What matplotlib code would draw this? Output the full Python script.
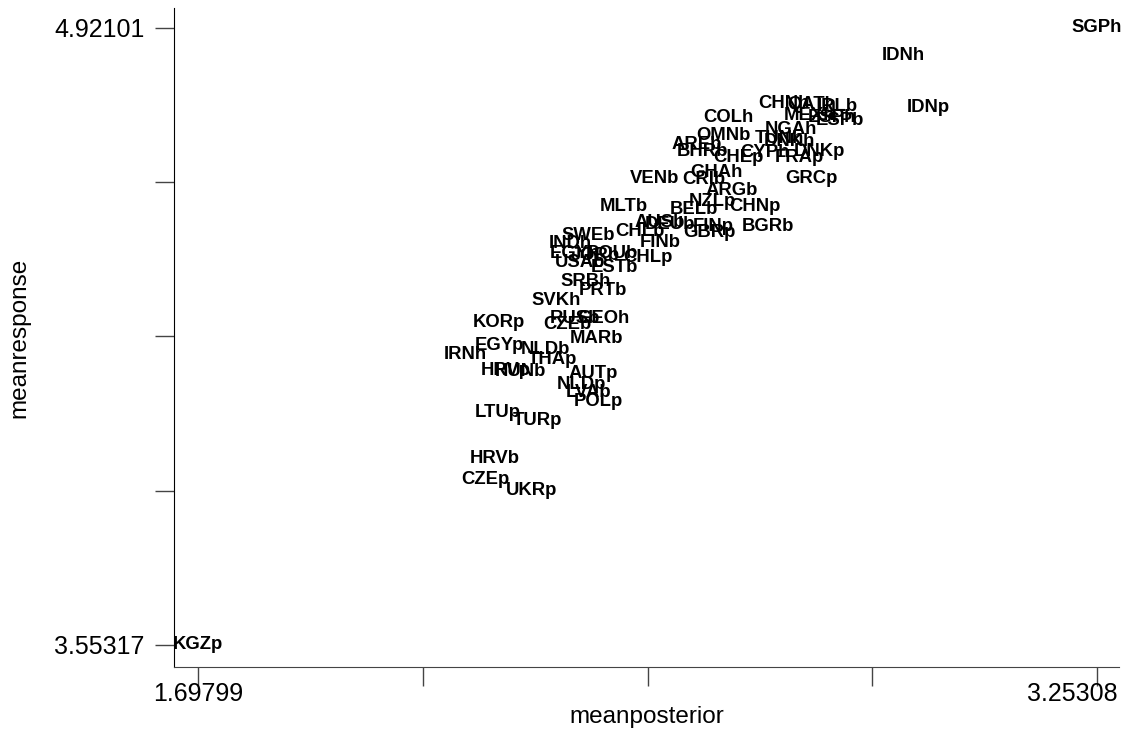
# coding: utf-8
# Scatter of mean response vs mean posterior, country codes used as markers

import matplotlib
matplotlib.use("Agg")
import matplotlib.pyplot as plt
from matplotlib.transforms import ScaledTranslation

codes = ["SGPh", "IDNh", "IDNp", "CHNh", "QATh", "IRLb", "MEXh", "ESPh", "ESPb",
         "COLh", "NGAh", "TUNh", "DNKh", "OMNb", "AREb", "BHRb", "CYPh", "DNKp",
         "CHEp", "FRAp", "GRCp", "GHAh", "VENb", "CRIb", "ARGb", "MLTb", "NZLp",
         "BELb", "CHNp", "BGRb", "AUSb", "DEUb", "FINp", "GBRp", "CHLb", "SWEb",
         "FINb", "INDh", "EGYh", "JORb", "ROUb", "CHLp", "USAb", "ESTb", "SRBh",
         "PRTb", "SVKh", "KORp", "CZEb", "RUSb", "GEOh", "MARb", "EGYp", "NLDb",
         "IRNh", "THAp", "HUNb", "HRVp", "AUTp", "NLDp", "LVAb", "POLp", "LTUp",
         "TURp", "HRVb", "CZEp", "UKRp", "KGZp"]

meanposterior = [3.25308, 2.918, 2.961, 2.711, 2.759, 2.804, 2.756, 2.794, 2.808,
                 2.616, 2.723, 2.704, 2.721, 2.606, 2.561, 2.570, 2.678, 2.773,
                 2.633, 2.739, 2.759, 2.594, 2.487, 2.573, 2.621, 2.435, 2.587,
                 2.556, 2.661, 2.683, 2.497, 2.514, 2.590, 2.583, 2.463, 2.373,
                 2.497, 2.342, 2.350, 2.385, 2.414, 2.476, 2.359, 2.419, 2.368,
                 2.399, 2.318, 2.219, 2.337, 2.350, 2.400, 2.388, 2.219, 2.299,
                 2.160, 2.311, 2.255, 2.230, 2.381, 2.361, 2.373, 2.390, 2.216,
                 2.285, 2.212, 2.195, 2.275, 1.69799]

meanresponse = [4.92101, 4.859, 4.744, 4.753, 4.751, 4.746, 4.727, 4.722, 4.716,
                4.722, 4.696, 4.676, 4.669, 4.682, 4.663, 4.647, 4.645, 4.647,
                4.634, 4.634, 4.587, 4.601, 4.587, 4.585, 4.561, 4.525, 4.537,
                4.519, 4.525, 4.481, 4.490, 4.486, 4.481, 4.468, 4.470, 4.461,
                4.446, 4.444, 4.422, 4.417, 4.422, 4.413, 4.400, 4.391, 4.358,
                4.340, 4.316, 4.267, 4.263, 4.276, 4.276, 4.232, 4.216, 4.209,
                4.198, 4.187, 4.159, 4.161, 4.154, 4.130, 4.114, 4.092, 4.068,
                4.050, 3.966, 3.920, 3.896, 3.55317]

xmin, xmax = 1.69799, 3.25308
ymin, ymax = 3.55317, 4.92101

plt.rcParams['font.family'] = ['Liberation Sans', 'DejaVu Sans']

fig = plt.figure(figsize=(11.24, 7.34), dpi=100)
ax = fig.add_axes([0.1548, 0.0913, 0.8408, 0.8978])

for c, x, y in zip(codes, meanposterior, meanresponse):
    ax.text(x, y, c, ha="center", va="center", fontsize=13.3,
            fontweight="bold", color="black", clip_on=False)

# axis range a bit wider than the data, like stata
ax.set_xlim(1.6565, 3.2911)
ax.set_ylim(3.5044, 4.9653)

xstep = (xmax - xmin) / 4
ystep = (ymax - ymin) / 4
ax.set_xticks([xmin + i * xstep for i in range(5)])
ax.set_xticklabels(["1.69799", "", "", "", "3.25308"])
ax.set_yticks([ymin + i * ystep for i in range(5)])
ax.set_yticklabels(["3.55317", "", "", "", "4.92101"])

ax.spines["top"].set_visible(False)
ax.spines["right"].set_visible(False)
ax.spines["left"].set_color("black")
ax.spines["bottom"].set_color("#444444")
ax.tick_params(axis="x", length=14, width=1, color="#444444", pad=-3, labelsize=18)
ax.tick_params(axis="y", length=14, width=1, color="#444444", pad=7, labelsize=18)

# last x label sits flush with the end of the axis
xl = ax.get_xticklabels()
xl[-1].set_horizontalalignment("right")
xl[-1].set_transform(xl[-1].get_transform() + ScaledTranslation(0.21, 0, fig.dpi_scale_trans))

ax.set_xlabel("meanposterior", fontsize=17.5, labelpad=0)
ax.set_ylabel("meanresponse", fontsize=17.5, labelpad=17)

fig.savefig("out.png", dpi=100)
